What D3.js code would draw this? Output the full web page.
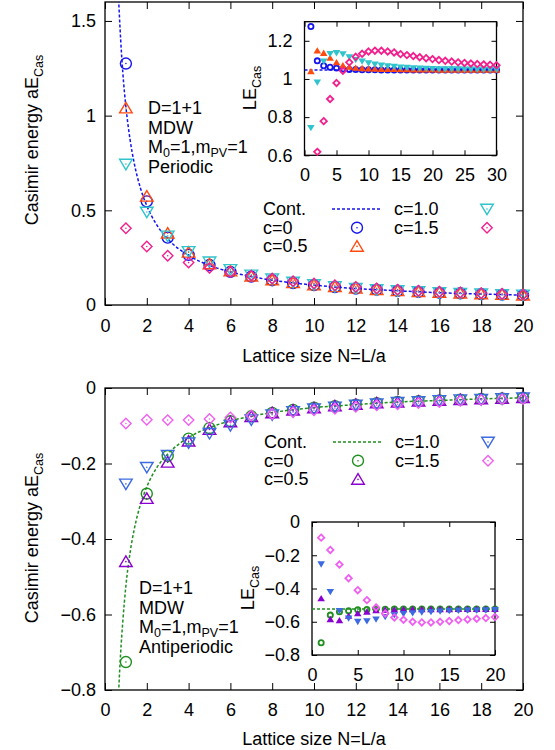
<!DOCTYPE html>
<html>
<head>
<meta charset="utf-8">
<script src="https://cdn.jsdelivr.net/npm/d3@7"></script>
<style>
  body { margin: 0; background: #fff; }
  svg { display: block; font-family: "Liberation Sans", Arial, sans-serif; }
</style>
</head>
<body>
<svg id="chart"></svg>
<script>

/////////////////////////////////
// DATA
//////////////////////////////////

var latticeN = [1, 2, 3, 4, 5, 6, 7, 8, 9, 10, 11, 12, 13, 14, 15, 16, 17, 18, 19, 20];
var insetN30 = [1, 2, 3, 4, 5, 6, 7, 8, 9, 10, 11, 12, 13, 14, 15, 16, 17, 18, 19, 20,
                21, 22, 23, 24, 25, 26, 27, 28, 29, 30];

// periodic, main panel: a*E_Cas
var perContN = [0.64, 0.75, 0.85, 1, 1.2, 1.4, 1.7, 2, 2.5, 3, 4, 5, 6, 7, 8, 10, 12, 14, 16, 18, 20];
var perContE = [1.64, 1.40, 1.23, 1.047, 0.873, 0.748, 0.616, 0.524, 0.419, 0.349, 0.262, 0.209,
                0.175, 0.150, 0.131, 0.105, 0.087, 0.075, 0.065, 0.058, 0.052];
var perC0  = [1.275, 0.547, 0.356, 0.265, 0.211, 0.175, 0.150, 0.131, 0.116, 0.105,
              0.095, 0.087, 0.081, 0.075, 0.070, 0.065, 0.062, 0.058, 0.055, 0.052];
var perC05 = [1.040, 0.574, 0.379, 0.278, 0.217, 0.179, 0.152, 0.132, 0.117, 0.105,
              0.096, 0.088, 0.081, 0.075, 0.070, 0.066, 0.062, 0.058, 0.055, 0.052];
var perC10 = [0.744, 0.491, 0.365, 0.283, 0.228, 0.188, 0.159, 0.138, 0.121, 0.108,
              0.098, 0.089, 0.082, 0.076, 0.071, 0.066, 0.062, 0.059, 0.055, 0.053];
var perC15 = [0.405, 0.309, 0.260, 0.224, 0.196, 0.174, 0.155, 0.140, 0.126, 0.114,
              0.104, 0.096, 0.088, 0.081, 0.075, 0.070, 0.066, 0.062, 0.058, 0.055];

// periodic, inset: L*E_Cas
var perLeContN = [0, 30];
var perLeContE = [1.047, 1.047];
var perLeC0  = [1.275, 1.095, 1.069, 1.061, 1.057, 1.052, 1.050, 1.049, 1.048, 1.048,
                1.048, 1.047, 1.047, 1.047, 1.047, 1.047, 1.047, 1.047, 1.047, 1.047,
                1.047, 1.047, 1.047, 1.047, 1.047, 1.047, 1.047, 1.047, 1.047, 1.047];
var perLeC05 = [1.040, 1.148, 1.136, 1.110, 1.087, 1.071, 1.063, 1.058, 1.056, 1.054,
                1.053, 1.052, 1.051, 1.051, 1.050, 1.050, 1.049, 1.049, 1.049, 1.049,
                1.048, 1.048, 1.048, 1.048, 1.048, 1.048, 1.048, 1.048, 1.048, 1.048];
var perLeC10 = [0.744, 0.982, 1.092, 1.132, 1.136, 1.130, 1.115, 1.100, 1.092, 1.083,
                1.076, 1.071, 1.067, 1.064, 1.061, 1.059, 1.057, 1.055, 1.054, 1.053,
                1.052, 1.052, 1.051, 1.051, 1.050, 1.050, 1.050, 1.049, 1.049, 1.049];
var perLeC15 = [0.405, 0.618, 0.779, 0.895, 0.979, 1.043, 1.087, 1.116, 1.132, 1.144,
                1.148, 1.148, 1.144, 1.139, 1.130, 1.125, 1.120, 1.114, 1.109, 1.104,
                1.099, 1.095, 1.091, 1.087, 1.084, 1.081, 1.078, 1.076, 1.074, 1.072];

// antiperiodic, main panel: a*E_Cas
var apContN = [0.64, 0.75, 0.85, 1, 1.2, 1.4, 1.7, 2, 2.5, 3, 4, 5, 6, 7, 8, 10, 12, 14, 16, 18, 20];
var apContE = [-0.82, -0.70, -0.62, -0.524, -0.436, -0.374, -0.308, -0.262, -0.209, -0.175, -0.131,
               -0.105, -0.087, -0.075, -0.065, -0.052, -0.044, -0.037, -0.033, -0.029, -0.026];
var apC0  = [-0.726, -0.280, -0.180, -0.134, -0.106, -0.088, -0.075, -0.066, -0.058, -0.052,
             -0.048, -0.044, -0.040, -0.037, -0.035, -0.033, -0.031, -0.029, -0.028, -0.026];
var apC05 = [-0.460, -0.293, -0.197, -0.141, -0.110, -0.090, -0.076, -0.066, -0.059, -0.053,
             -0.048, -0.044, -0.040, -0.038, -0.035, -0.033, -0.031, -0.029, -0.028, -0.026];
var apC10 = [-0.254, -0.210, -0.178, -0.145, -0.120, -0.099, -0.084, -0.071, -0.062, -0.055,
             -0.050, -0.045, -0.042, -0.038, -0.036, -0.033, -0.031, -0.030, -0.028, -0.026];
var apC15 = [-0.094, -0.084, -0.085, -0.085, -0.082, -0.078, -0.073, -0.069, -0.064, -0.059,
             -0.055, -0.050, -0.046, -0.043, -0.040, -0.037, -0.034, -0.032, -0.030, -0.029];

// antiperiodic, inset: L*E_Cas
var apLeContN = [0, 20];
var apLeContE = [-0.524, -0.524];
var apLeC0  = [-0.726, -0.560, -0.540, -0.534, -0.528, -0.526, -0.525, -0.525, -0.524, -0.524,
               -0.524, -0.524, -0.524, -0.524, -0.524, -0.524, -0.524, -0.524, -0.524, -0.524];
var apLeC05 = [-0.460, -0.585, -0.592, -0.565, -0.550, -0.540, -0.532, -0.528, -0.527, -0.526,
               -0.525, -0.525, -0.525, -0.525, -0.525, -0.524, -0.524, -0.524, -0.524, -0.524];
var apLeC10 = [-0.254, -0.420, -0.534, -0.580, -0.600, -0.596, -0.586, -0.570, -0.560, -0.553,
               -0.548, -0.543, -0.540, -0.537, -0.535, -0.533, -0.532, -0.531, -0.530, -0.529];
var apLeC15 = [-0.094, -0.168, -0.256, -0.338, -0.410, -0.470, -0.514, -0.550, -0.574, -0.588,
               -0.600, -0.604, -0.604, -0.600, -0.596, -0.590, -0.586, -0.582, -0.578, -0.572];

var seriesNames = ["c=0", "c=0.5", "c=1.0", "c=1.5"];
var seriesShapes = ["circle", "triUp", "triDown", "diamond"];
var perColors = ["#1414f0", "#ff4a10", "#30c4cc", "#f2208c"];
var apColors = ["#1f8f1f", "#8a00d0", "#3c6ae0", "#f060f0"];
var perContColor = "#1414f0";
var apContColor = "#1f8f1f";


/////////////////////////////////
// SET STATIC VARIABLES
//////////////////////////////////

var width = 555;
var height = 750;
var FONT = 18;
var SUB = 12.5;

var svg = d3.select("#chart")
    .attr("width", width)
    .attr("height", height);

svg.append("rect").attr("width", width).attr("height", height).attr("fill", "#fff");


/////////////////////////////////
// HELPERS
//////////////////////////////////

function shapePath(shape, s) {
    if (shape == "circle") {
        return "M" + s + ",0A" + s + "," + s + " 0 1,1 " + (-s) + ",0A" + s + "," + s + " 0 1,1 " + s + ",0Z";
    } else if (shape == "triUp") {
        return "M0," + (-s * 0.95) + "L" + (s * 1.05) + "," + (s * 0.8) + "L" + (-s * 1.05) + "," + (s * 0.8) + "Z";
    } else if (shape == "triDown") {
        return "M0," + (s * 0.95) + "L" + (s * 1.05) + "," + (-s * 0.8) + "L" + (-s * 1.05) + "," + (-s * 0.8) + "Z";
    }
    return "M0," + (-s) + "L" + s + ",0L0," + s + "L" + (-s) + ",0Z";
}

// open marker with a small dot in the middle (main panels)
function openMarker(g, x, y, shape, color) {
    var s = shape == "circle" ? 5.5 : (shape == "diamond" ? 5.2 : 6);
    g.append("path")
        .attr("transform", "translate(" + x + "," + y + ")")
        .attr("d", shapePath(shape, s))
        .attr("fill", "none")
        .attr("stroke", color)
        .attr("stroke-width", 1.4);
    g.append("circle").attr("cx", x).attr("cy", y).attr("r", 0.8).attr("fill", color);
}

// small marker (insets)
function smallMarker(g, x, y, shape, color) {
    if (shape == "circle" || shape == "diamond") {
        g.append("path")
            .attr("transform", "translate(" + x + "," + y + ")")
            .attr("d", shapePath(shape, shape == "circle" ? 2.6 : 3.2))
            .attr("fill", "none")
            .attr("stroke", color)
            .attr("stroke-width", 1.8);
    } else {
        g.append("path")
            .attr("transform", "translate(" + x + "," + y + ")")
            .attr("d", shapePath(shape, 3.6))
            .attr("fill", color);
    }
}

function drawFrame(g, x, y, tickSize, opts) {
    var x0 = x.range()[0], x1 = x.range()[1];
    var y0 = y.range()[0], y1 = y.range()[1];

    var bottom = g.append("g").attr("transform", "translate(0," + y0 + ")")
        .call(d3.axisBottom(x).tickValues(opts.xTicks).tickSize(-tickSize).tickPadding(opts.xPad).tickFormat(d3.format("~g")));
    var top = g.append("g").attr("transform", "translate(0," + y1 + ")")
        .call(d3.axisTop(x).tickValues(opts.xTicks).tickSize(-tickSize).tickFormat(""));
    var left = g.append("g").attr("transform", "translate(" + x0 + ",0)")
        .call(d3.axisLeft(y).tickValues(opts.yTicks).tickSize(-tickSize).tickPadding(opts.yPad).tickFormat(d3.format("~g")));
    var right = g.append("g").attr("transform", "translate(" + x1 + ",0)")
        .call(d3.axisRight(y).tickValues(opts.yTicks).tickSize(-tickSize).tickFormat(""));

    [bottom, top, left, right].forEach(function(a) {
        a.select(".domain").remove();
        a.selectAll(".tick line").attr("stroke", "#000").attr("stroke-width", 1);
        a.selectAll(".tick text").attr("fill", "#000").style("font-size", FONT + "px")
            .style("font-family", "'Liberation Sans', Arial, sans-serif");
    });

    g.append("rect")
        .attr("x", x0).attr("y", y1)
        .attr("width", x1 - x0).attr("height", y0 - y1)
        .attr("fill", "none").attr("stroke", "#000").attr("stroke-width", 1.3);
}

function subLabel(g, x, y, main, sub, rotate) {
    var t = g.append("text")
        .attr("transform", "translate(" + x + "," + y + ")" + (rotate ? " rotate(-90)" : ""))
        .attr("text-anchor", rotate ? "middle" : "start")
        .style("font-size", FONT + "px");
    t.append("tspan").text(main);
    t.append("tspan").attr("dy", 5).style("font-size", SUB + "px").text(sub);
    return t;
}

function drawPanel(cfg) {
    var g = svg.append("g");

    var x = d3.scaleLinear().domain(cfg.xDomain).range(cfg.xRange);
    var y = d3.scaleLinear().domain(cfg.yDomain).range(cfg.yRange);

    var clipId = "clip" + cfg.id;
    svg.append("clipPath").attr("id", clipId).append("rect")
        .attr("x", cfg.xRange[0]).attr("y", cfg.yRange[1])
        .attr("width", cfg.xRange[1] - cfg.xRange[0])
        .attr("height", cfg.yRange[0] - cfg.yRange[1]);

    drawFrame(g, x, y, cfg.tick, cfg);

    // continuum line
    var lineGen = d3.line()
        .x(function(d) { return x(d[0]); })
        .y(function(d) { return y(d[1]); })
        .curve(d3.curveMonotoneX);

    g.append("path")
        .datum(d3.zip(cfg.contN, cfg.contE))
        .attr("clip-path", "url(#" + clipId + ")")
        .attr("d", lineGen)
        .attr("fill", "none")
        .attr("stroke", cfg.contColor)
        .attr("stroke-width", 1.5)
        .attr("stroke-dasharray", "3,2");

    // lattice points
    var pts = g.append("g");
    cfg.series.forEach(function(vals, i) {
        vals.forEach(function(v, j) {
            if (v < cfg.yDomain[0] || v > cfg.yDomain[1]) return;
            var px = x(cfg.n[j]), py = y(v);
            if (cfg.small) {
                smallMarker(pts, px, py, seriesShapes[i], cfg.colors[i]);
            } else {
                openMarker(pts, px, py, seriesShapes[i], cfg.colors[i]);
            }
        });
    });

    return { g: g, x: x, y: y };
}

function drawLegend(x0, baseY, contColor, colors) {
    var g = svg.append("g").style("font-size", FONT + "px");
    var rowH = 18.7;
    var colTextX = [x0, x0 + 131];
    var colSymX = [x0 + 94, x0 + 224];
    var entries = [
        { name: "Cont.", col: 0, row: 0, line: true },
        { name: seriesNames[0], col: 0, row: 1, k: 0 },
        { name: seriesNames[1], col: 0, row: 2, k: 1 },
        { name: seriesNames[2], col: 1, row: 0, k: 2 },
        { name: seriesNames[3], col: 1, row: 1, k: 3 }
    ];
    entries.forEach(function(e) {
        var by = baseY + e.row * rowH;
        g.append("text").attr("x", colTextX[e.col]).attr("y", by).text(e.name);
        if (e.line) {
            g.append("line")
                .attr("x1", colSymX[e.col] - 25).attr("x2", colSymX[e.col] + 25)
                .attr("y1", by - 6).attr("y2", by - 6)
                .attr("stroke", contColor).attr("stroke-width", 1.5)
                .attr("stroke-dasharray", "3,2");
        } else {
            openMarker(g, colSymX[e.col], by - 6, seriesShapes[e.k], colors[e.k]);
        }
    });
}

function drawNote(x0, baseY, last) {
    var g = svg.append("g").style("font-size", FONT + "px");
    var rowH = 19.5;
    g.append("text").attr("x", x0).attr("y", baseY).text("D=1+1");
    g.append("text").attr("x", x0).attr("y", baseY + rowH).text("MDW");
    var t = g.append("text").attr("x", x0).attr("y", baseY + 2 * rowH);
    t.append("tspan").text("M");
    t.append("tspan").attr("dy", 3.5).style("font-size", SUB + "px").text("0");
    t.append("tspan").attr("dy", -3.5).text("=1,m");
    t.append("tspan").attr("dy", 3.5).style("font-size", SUB + "px").text("PV");
    t.append("tspan").attr("dy", -3.5).text("=1");
    g.append("text").attr("x", x0).attr("y", baseY + 3 * rowH).text(last);
}


/////////////////////////////////
// TOP: PERIODIC
//////////////////////////////////

drawPanel({
    id: "perMain", xDomain: [0, 20], xRange: [105, 523], yDomain: [0, 1.6], yRange: [305, 2],
    xTicks: [0, 2, 4, 6, 8, 10, 12, 14, 16, 18, 20], yTicks: [0, 0.5, 1, 1.5],
    xPad: 14, yPad: 9, tick: 7,
    n: latticeN, contN: perContN, contE: perContE, contColor: perContColor,
    series: [perC0, perC05, perC10, perC15], colors: perColors, small: false
});

drawPanel({
    id: "perInset", xDomain: [0, 30], xRange: [304.5, 496.5], yDomain: [0.6, 1.3], yRange: [155.3, 21.7],
    xTicks: [0, 5, 10, 15, 20, 25, 30], yTicks: [0.6, 0.8, 1, 1.2],
    xPad: 13, yPad: 12, tick: 5,
    n: insetN30, contN: perLeContN, contE: perLeContE, contColor: perContColor,
    series: [perLeC0, perLeC05, perLeC10, perLeC15], colors: perColors, small: true
});

subLabel(svg, 38, 140, "Casimir energy aE", "Cas", true);
subLabel(svg, 256, 88, "LE", "Cas", true);
svg.append("text").attr("x", 314).attr("y", 362).attr("text-anchor", "middle")
    .style("font-size", FONT + "px").text("Lattice size N=L/a");

drawLegend(263, 215, perContColor, perColors);
drawNote(148, 114, "Periodic");


/////////////////////////////////
// BOTTOM: ANTIPERIODIC
//////////////////////////////////

drawPanel({
    id: "apMain", xDomain: [0, 20], xRange: [105, 523], yDomain: [-0.8, 0], yRange: [690, 388],
    xTicks: [0, 2, 4, 6, 8, 10, 12, 14, 16, 18, 20], yTicks: [-0.8, -0.6, -0.4, -0.2, 0],
    xPad: 13, yPad: 9, tick: 7,
    n: latticeN, contN: apContN, contE: apContE, contColor: apContColor,
    series: [apC0, apC05, apC10, apC15], colors: apColors, small: false
});

drawPanel({
    id: "apInset", xDomain: [0, 20], xRange: [312, 495], yDomain: [-0.8, 0], yRange: [655, 522],
    xTicks: [0, 5, 10, 15, 20], yTicks: [-0.8, -0.6, -0.4, -0.2, 0],
    xPad: 13, yPad: 12, tick: 5,
    n: latticeN, contN: apLeContN, contE: apLeContE, contColor: apContColor,
    series: [apLeC0, apLeC05, apLeC10, apLeC15], colors: apColors, small: true
});

subLabel(svg, 38, 538, "Casimir energy aE", "Cas", true);
subLabel(svg, 254, 588, "LE", "Cas", true);
svg.append("text").attr("x", 314).attr("y", 745).attr("text-anchor", "middle")
    .style("font-size", FONT + "px").text("Lattice size N=L/a");

drawLegend(264, 448, apContColor, apColors);
drawNote(139, 594, "Antiperiodic");

</script>
</body>
</html>
